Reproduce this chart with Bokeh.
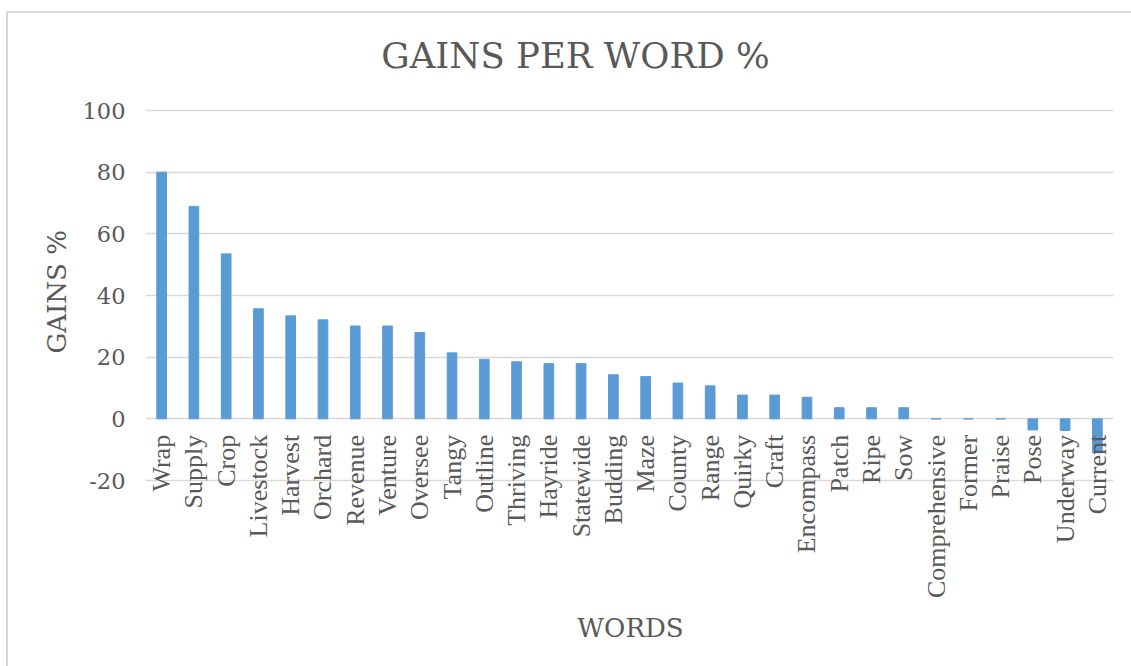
import math
from bokeh.plotting import figure
from bokeh.models import FactorRange, Range1d, Label, LabelSet, FixedTicker, ColumnDataSource, Title
from bokeh.embed import file_html
from bokeh.resources import INLINE

words = ["Wrap", "Supply", "Crop", "Livestock", "Harvest", "Orchard", "Revenue",
         "Venture", "Oversee", "Tangy", "Outline", "Thriving", "Hayride", "Statewide",
         "Budding", "Maze", "County", "Range", "Quirky", "Craft", "Encompass", "Patch",
         "Ripe", "Sow", "Comprehensive", "Former", "Praise", "Pose", "Underway", "Current"]
gains = [80.0, 68.9, 53.5, 35.7, 33.4, 32.1, 30.1, 30.1, 28.0, 21.4, 19.3, 18.5, 17.9,
         17.9, 14.3, 13.7, 11.6, 10.7, 7.7, 7.7, 7.0, 3.6, 3.6, 3.6, 0.0, 0.0, 0.0,
         -3.6, -3.8, -11.0]
y_ticks = [-20, 0, 20, 40, 60, 80, 100]
y_tick_labels = {t: str(t) for t in y_ticks}

FONT = "DejaVu Serif"
TXT = "#595959"
GRID = "#D9D9D9"

ox, oy = 8, 13  # canvas origin on page
W, H = 1125, 655
FL, FR = 145, 1113          # frame left/right on page
FT, FB = 22, 650            # frame top/bottom on page (extended to hold texts)
Y100, YM20 = 110, 480       # page rows of the 100 and -20 gridlines
k = (YM20 - Y100) / 120.0
y_top = 100 + (Y100 - FT) / k
y_bot = -20 - (FB - YM20) / k

p = figure(x_range=FactorRange(*words, range_padding=0), y_range=Range1d(y_bot, y_top),
           width=W, height=H, output_backend="svg", toolbar_location=None,
           min_border_left=FL - ox, min_border_right=W - (FR - ox),
           min_border_top=FT - oy, min_border_bottom=H - (FB - oy))
p.margin = (oy - 2, 0, 0, ox - 2)
p.styles = {"border-left": "2px solid #D9D9D9", "border-top": "2px solid #D9D9D9"}
p.outline_line_color = None
p.background_fill_color = "white"
p.border_fill_color = "white"

src = ColumnDataSource(dict(word=words, gain=gains, zero=[0] * len(words)))
p.vbar(x="word", top="gain", bottom=0, width=0.3, color="#5B9BD5", source=src)

p.xgrid.grid_line_color = None
p.ygrid.grid_line_color = GRID
p.ygrid.grid_line_width = 1.5
p.yaxis.ticker = FixedTicker(ticks=y_ticks)
p.yaxis.major_label_overrides = y_tick_labels
p.yaxis.axis_line_color = None
p.yaxis.major_tick_line_color = None
p.yaxis.minor_tick_line_color = None
p.yaxis.major_label_text_font = FONT
p.yaxis.major_label_text_font_size = "22.5px"
p.yaxis.major_label_text_color = TXT
p.yaxis.major_label_standoff = 14
p.xaxis.visible = False

p.add_layout(Title(text="GAINS %", align="left", offset=FB - 353, standoff=15, text_font=FONT,
                   text_font_size="26px", text_font_style="normal", text_color=TXT), "left")

p.add_layout(LabelSet(x="word", y="zero", text="word", source=src, angle=math.pi / 2,
                      text_align="right", text_baseline="middle", y_offset=-16,
                      text_font=FONT, text_font_size="26px", text_color=TXT))

p.add_layout(Label(x=575 - FL, y=FB - 55, x_units="screen", y_units="screen",
                   text="GAINS PER WORD %", text_font=FONT, text_font_size="35.5px",
                   text_color=TXT, text_align="center", text_baseline="middle"))
p.add_layout(Label(x=630 - FL, y=FB - 627, x_units="screen", y_units="screen",
                   text="WORDS", text_font=FONT, text_font_size="26px", text_color=TXT,
                   text_align="center", text_baseline="middle"))

open("out.html", "w").write(file_html(p, INLINE))
